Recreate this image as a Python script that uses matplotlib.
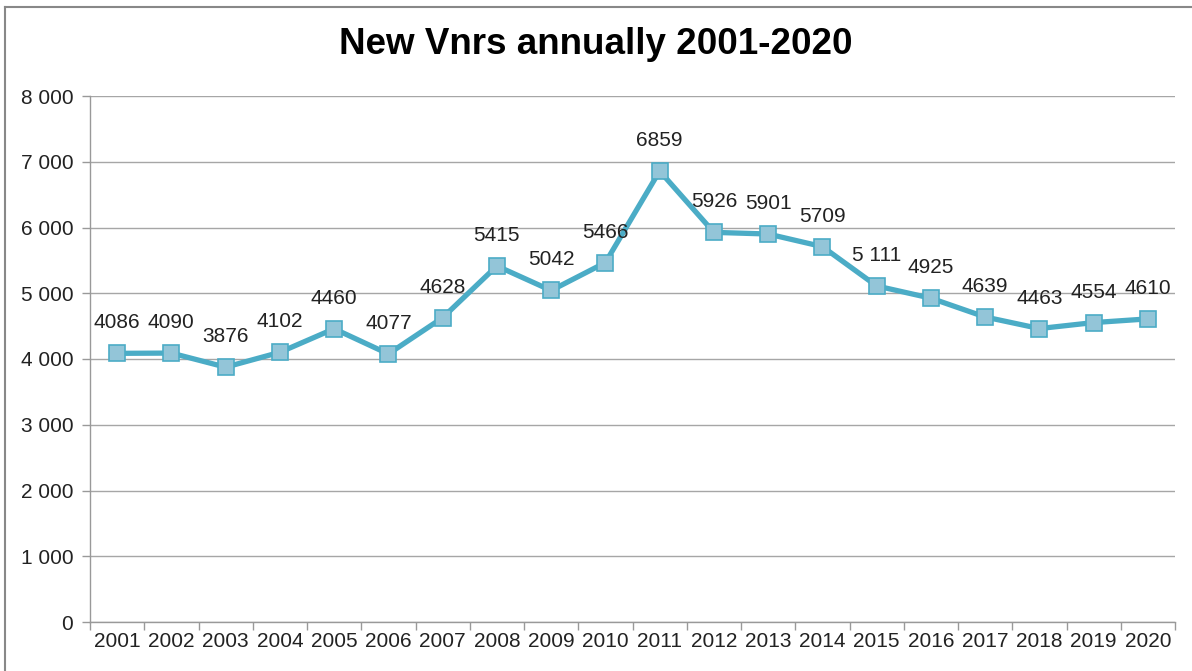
import matplotlib.pyplot as plt
from matplotlib.lines import Line2D
import numpy as np

plt.rcParams['font.family'] = ['Liberation Sans', 'DejaVu Sans']

years = ['2001', '2002', '2003', '2004', '2005', '2006', '2007', '2008', '2009', '2010',
         '2011', '2012', '2013', '2014', '2015', '2016', '2017', '2018', '2019', '2020']
values = [4086, 4090, 3876, 4102, 4460, 4077, 4628, 5415, 5042, 5466,
          6859, 5926, 5901, 5709, 5111, 4925, 4639, 4463, 4554, 4610]
value_labels = ['4086', '4090', '3876', '4102', '4460', '4077', '4628', '5415', '5042', '5466',
                '6859', '5926', '5901', '5709', '5 111', '4925', '4639', '4463', '4554', '4610']
y_ticks = [0, 1000, 2000, 3000, 4000, 5000, 6000, 7000, 8000]

fig = plt.figure(figsize=(11.92, 6.71), dpi=100)
ax = fig.add_axes([90 / 1192, 1 - 622 / 671, (1175 - 90) / 1192, (622 - 96) / 671])

x = np.arange(len(years)) + 0.5
ax.plot(x, values, color='#4BACC6', linewidth=3.8, marker='s', markersize=11.5,
        markerfacecolor='#93C5D8', markeredgecolor='#4BACC6', markeredgewidth=1.2,
        zorder=3)

for xi, v, lab in zip(x, values, value_labels):
    ax.annotate(lab, (xi, v), xytext=(0, 22), textcoords='offset points',
                ha='center', va='center', fontsize=15, color='#222222')

ax.set_xlim(0, len(years))
ax.set_ylim(0, 8000)
ax.set_yticks(y_ticks)
ax.set_yticklabels([f'{t:,}'.replace(',', ' ') for t in y_ticks])
ax.set_xticks(np.arange(len(years) + 1))
ax.set_xticklabels([])
ax.set_xticks(x, minor=True)
ax.set_xticklabels(years, minor=True)
ax.tick_params(axis='x', which='minor', length=0, labelsize=15, pad=7, labelcolor='#222222')
ax.tick_params(axis='x', which='major', length=6, color='#999999', width=1)
ax.tick_params(axis='y', length=6, color='#999999', width=1, labelsize=15, pad=6,
               labelcolor='#222222')

ax.grid(axis='y', color='#A6A6A6', linewidth=1)
ax.set_axisbelow(True)
for side in ['top', 'right']:
    ax.spines[side].set_visible(False)
for side in ['left', 'bottom']:
    ax.spines[side].set_color('#999999')
    ax.spines[side].set_linewidth(1)

fig.text(0.5, 1 - 45 / 671, 'New Vnrs annually 2001-2020', ha='center', va='center',
         fontsize=26.5, fontweight='bold', color='black')

# chart border (left and top only visible)
fig.add_artist(Line2D([5 / 1192, 5 / 1192], [0, 1 - 7 / 671], color='#888888', linewidth=1.5))
fig.add_artist(Line2D([5 / 1192, 1], [1 - 7 / 671, 1 - 7 / 671], color='#888888', linewidth=1.5))

fig.savefig('out.png', dpi=100)
